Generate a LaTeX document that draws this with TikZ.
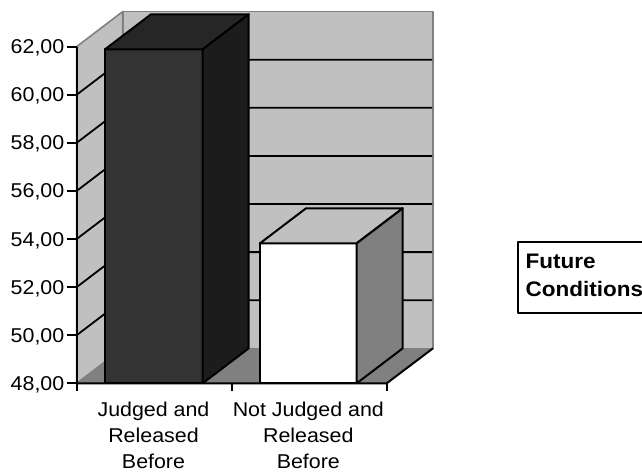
\documentclass[tikz,border=0pt]{standalone}
\usepackage{fontspec}
\setmainfont{Liberation Sans}[FakeStretch=1.07]
\definecolor{wallgray}{HTML}{C0C0C0}
\definecolor{edgegray}{HTML}{808080}
\definecolor{floorgray}{HTML}{808080}
\definecolor{bAfront}{HTML}{333333}
\definecolor{bAtop}{HTML}{262626}
\definecolor{bAside}{HTML}{1C1C1C}
\begin{document}
\begin{tikzpicture}[x=1pt,y=-1pt,line join=round,
  wall/.style={fill=wallgray,draw=edgegray,line width=1.6pt},
  gridln/.style={draw=black,line width=1.8pt},
  blk/.style={draw=black,line width=2pt},
  ticklbl/.style={anchor=base east,inner sep=0pt,font=\fontsize{20}{24}\selectfont},
  catlbl/.style={anchor=base,inner sep=0pt,font=\fontsize{20}{24}\selectfont},
  leglbl/.style={anchor=base west,inner sep=0pt,font=\fontsize{21}{25}\selectfont\bfseries}]
\useasboundingbox (0,0) rectangle (642,472);
% walls
\filldraw[wall] (122.7,11.6) rectangle (433,348.3);
\filldraw[wall] (76.7,46.6) -- (122.7,11.6) -- (122.7,348.3) -- (76.7,383.3) -- cycle;
% gridlines
\foreach \yy in {335.2,287.1,239.0,190.9,142.8,94.7}
  \draw[gridln] (76.7,\yy) -- (122.7,{\yy-35}) -- (432,{\yy-35});
% floor
\fill[floorgray] (76.7,383.3) -- (122.7,348.3) -- (433,348.3) -- (386.7,383.3) -- cycle;
\draw[blk] (76.7,383.3) -- (386.7,383.3) -- (433,348.3);
% value axis
\draw[blk] (76.7,46.6) -- (76.7,383.3);
\foreach \yy/\lbl in {383.3/48,335.2/50,287.1/52,239.0/54,190.9/56,142.8/58,94.7/60,46.6/62}{
  \draw[blk] (66.7,\yy) -- (76.7,\yy);
  \node[ticklbl] (t\lbl) at (64.5,{\yy+7}) {\lbl,00};
}
% category ticks
\foreach \xx in {76.7,231.7,386.7}
  \draw[blk] (\xx,383.3) -- (\xx,391);
% bar 1
\filldraw[blk,fill=bAfront] (105,49.3) rectangle (202.7,383.3);
\filldraw[blk,fill=bAtop] (105,49.3) -- (151,14.3) -- (248.7,14.3) -- (202.7,49.3) -- cycle;
\filldraw[blk,fill=bAside] (202.7,49.3) -- (248.7,14.3) -- (248.7,348.3) -- (202.7,383.3) -- cycle;
% bar 2
\filldraw[blk,fill=white] (260,243.3) rectangle (356.7,383.3);
\filldraw[blk,fill=wallgray] (260,243.3) -- (306,208.3) -- (402.7,208.3) -- (356.7,243.3) -- cycle;
\filldraw[blk,fill=floorgray] (356.7,243.3) -- (402.7,208.3) -- (402.7,348.3) -- (356.7,383.3) -- cycle;
% category labels
\node[catlbl] (j1) at (153.5,416) {Judged and};
\node[catlbl] (j2) at (153.5,442.8) {Released};
\node[catlbl] (j3) at (153.5,468.3) {Before};
\node[catlbl] (n1) at (308.3,416) {Not Judged and};
\node[catlbl] (n2) at (308.3,442.8) {Released};
\node[catlbl] (n3) at (308.3,468.3) {Before};
% legend
\draw[line width=2pt] (660,241.7) -- (518.3,241.7) -- (518.3,312.7) -- (660,312.7);
\node[leglbl] (l1) at (525.5,268.3) {Future};
\node[leglbl] (l2) at (525.5,296.7) {Conditions};
\end{tikzpicture}
\end{document}
